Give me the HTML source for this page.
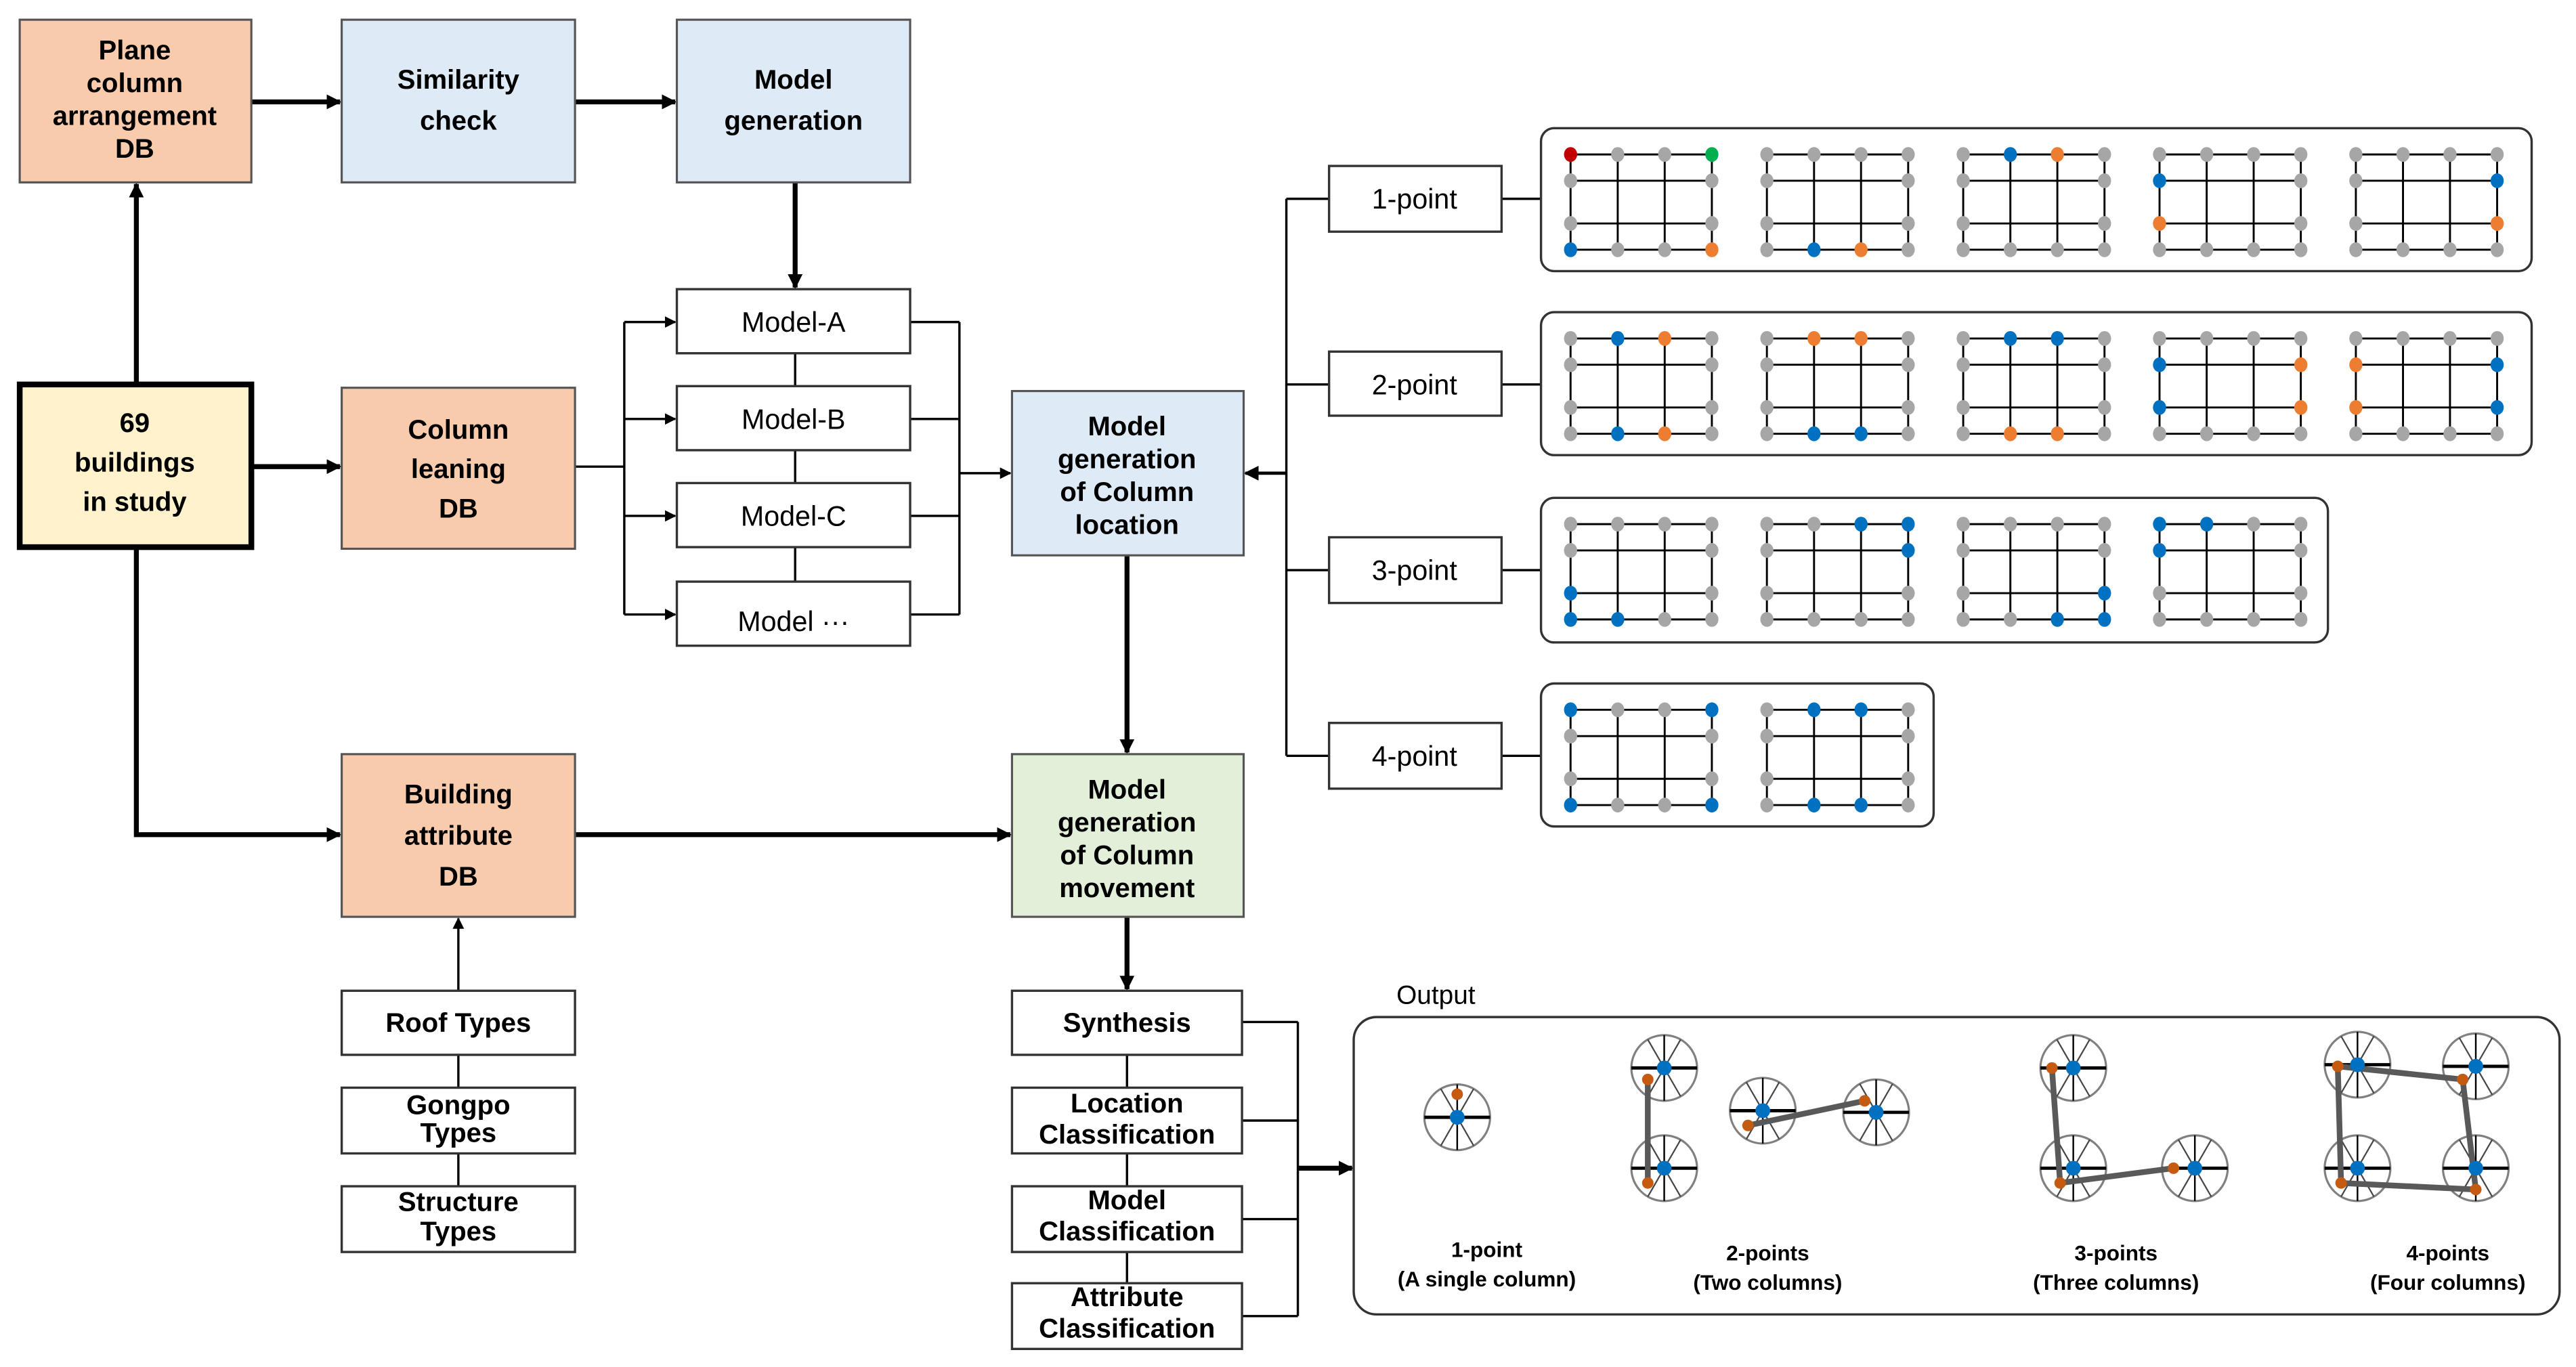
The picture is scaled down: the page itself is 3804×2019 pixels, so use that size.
<!DOCTYPE html>
<html><head><meta charset="utf-8"><style>
html,body{margin:0;padding:0;background:#fff}
svg{display:block}
text{font-family:"Liberation Sans",sans-serif;}
.b{font-weight:bold;font-size:16.5px;text-anchor:middle;fill:#000}
.n{font-size:17px;text-anchor:middle;fill:#000}
</style></head><body>
<svg id="s" xmlns="http://www.w3.org/2000/svg" width="3804" height="2019" viewBox="0 0 1568 832" preserveAspectRatio="none">
<defs>
<marker id="a" viewBox="0 0 10 10" refX="9" refY="5" markerWidth="7" markerHeight="7" markerUnits="userSpaceOnUse" orient="auto"><path d="M0,0L10,5L0,10z" fill="#000"/></marker>
<marker id="a2" viewBox="0 0 10 10" refX="9" refY="5" markerWidth="9" markerHeight="9" markerUnits="userSpaceOnUse" orient="auto"><path d="M0,0L10,5L0,10z" fill="#000"/></marker>
</defs>
<g stroke="#000" fill="none">
<g stroke-width="3">
<line x1="153" y1="62" x2="207" y2="62" marker-end="url(#a2)"/>
<line x1="350" y1="62" x2="411" y2="62" marker-end="url(#a2)"/>
<line x1="83" y1="234" x2="83" y2="112" marker-end="url(#a2)"/>
<line x1="153" y1="284" x2="207" y2="284" marker-end="url(#a2)"/>
<polyline points="83,333 83,508 207,508" marker-end="url(#a2)"/>
<line x1="484" y1="111" x2="484" y2="175" marker-end="url(#a2)"/>
<line x1="686" y1="338" x2="686" y2="458" marker-end="url(#a2)"/>
<line x1="350" y1="508" x2="615" y2="508" marker-end="url(#a2)"/>
<line x1="686" y1="558" x2="686" y2="602" marker-end="url(#a2)"/>
<line x1="790" y1="711" x2="823" y2="711" marker-end="url(#a2)"/>
</g>
<g stroke-width="1.4">
<line x1="350" y1="284" x2="380" y2="284"/>
<line x1="380" y1="196" x2="380" y2="374"/>
<line x1="380" y1="196" x2="411" y2="196" marker-end="url(#a)"/>
<line x1="380" y1="255" x2="411" y2="255" marker-end="url(#a)"/>
<line x1="380" y1="314" x2="411" y2="314" marker-end="url(#a)"/>
<line x1="380" y1="374" x2="411" y2="374" marker-end="url(#a)"/>
<line x1="554" y1="196" x2="584" y2="196"/>
<line x1="554" y1="255" x2="584" y2="255"/>
<line x1="554" y1="314" x2="584" y2="314"/>
<line x1="554" y1="374" x2="584" y2="374"/>
<line x1="584" y1="196" x2="584" y2="374"/>
<line x1="584" y1="288" x2="615" y2="288" marker-end="url(#a)"/>
<line x1="484" y1="215" x2="484" y2="235"/>
<line x1="484" y1="274" x2="484" y2="294"/>
<line x1="484" y1="333" x2="484" y2="354"/>
<line x1="279" y1="603" x2="279" y2="559" marker-end="url(#a)"/>
<line x1="279" y1="642" x2="279" y2="662"/>
<line x1="279" y1="702" x2="279" y2="722"/>
<line x1="686" y1="642" x2="686" y2="662"/>
<line x1="686" y1="702" x2="686" y2="722"/>
<line x1="686" y1="762" x2="686" y2="781"/>
<line x1="756" y1="622" x2="790" y2="622"/>
<line x1="756" y1="682" x2="790" y2="682"/>
<line x1="756" y1="742" x2="790" y2="742"/>
<line x1="756" y1="801" x2="790" y2="801"/>
<line x1="790" y1="622" x2="790" y2="801"/>
<line x1="783" y1="121" x2="783" y2="460"/>
<line x1="783" y1="121" x2="809" y2="121"/>
<line x1="783" y1="234" x2="809" y2="234"/>
<line x1="783" y1="347" x2="809" y2="347"/>
<line x1="783" y1="460" x2="809" y2="460"/>
<line x1="914" y1="121" x2="938" y2="121"/>
<line x1="914" y1="234" x2="938" y2="234"/>
<line x1="914" y1="347" x2="938" y2="347"/>
<line x1="914" y1="460" x2="938" y2="460"/>
<line x1="783" y1="288" x2="758" y2="288" stroke-width="2" marker-end="url(#a2)"/>
</g>
</g>
<g stroke="#555" stroke-width="1.3">
<rect x="12" y="12" width="141" height="99" fill="#f8cbad"/>
<rect x="208" y="12" width="142" height="99" fill="#deebf7"/>
<rect x="412" y="12" width="142" height="99" fill="#deebf7"/>
<rect x="208" y="236" width="142" height="98" fill="#f8cbad"/>
<rect x="616" y="238" width="141" height="100" fill="#deebf7"/>
<rect x="208" y="459" width="142" height="99" fill="#f8cbad"/>
<rect x="616" y="459" width="141" height="99" fill="#e2f0d9"/>
</g>
<rect x="12" y="234" width="141" height="99" fill="#fff2cc" stroke="#000" stroke-width="3.5"/>
<g stroke="#333" stroke-width="1.4" fill="#fff">
<rect x="412" y="176" width="142" height="39"/>
<rect x="412" y="235" width="142" height="39"/>
<rect x="412" y="294" width="142" height="39"/>
<rect x="412" y="354" width="142" height="39"/>
<rect x="208" y="603" width="142" height="39"/>
<rect x="208" y="662" width="142" height="40"/>
<rect x="208" y="722" width="142" height="40"/>
<rect x="616" y="603" width="140" height="39"/>
<rect x="616" y="662" width="140" height="40"/>
<rect x="616" y="722" width="140" height="40"/>
<rect x="616" y="781" width="140" height="40"/>
<rect x="809" y="101" width="105" height="40"/>
<rect x="809" y="214" width="105" height="39"/>
<rect x="809" y="327" width="105" height="40"/>
<rect x="809" y="440" width="105" height="40"/>
<rect x="938" y="78" width="603" height="87" rx="8"/>
<rect x="938" y="190" width="603" height="87" rx="8"/>
<rect x="938" y="303" width="479" height="88" rx="8"/>
<rect x="938" y="416" width="239" height="87" rx="8"/>
<rect x="824" y="619" width="734" height="181" rx="14"/>
</g>
<g id="grids"></g>
<g id="wheels"></g>
<text class="b" x="82" y="36">Plane</text>
<text class="b" x="82" y="56">column</text>
<text class="b" x="82" y="76">arrangement</text>
<text class="b" x="82" y="96">DB</text>
<text class="b" x="279" y="54">Similarity</text>
<text class="b" x="279" y="79">check</text>
<text class="b" x="483" y="54">Model</text>
<text class="b" x="483" y="79">generation</text>
<text class="b" x="82" y="263">69</text>
<text class="b" x="82" y="287">buildings</text>
<text class="b" x="82" y="311">in study</text>
<text class="b" x="279" y="267">Column</text>
<text class="b" x="279" y="291">leaning</text>
<text class="b" x="279" y="315">DB</text>
<text class="b" x="686" y="265">Model</text>
<text class="b" x="686" y="285">generation</text>
<text class="b" x="686" y="305">of Column</text>
<text class="b" x="686" y="325">location</text>
<text class="b" x="279" y="489">Building</text>
<text class="b" x="279" y="514">attribute</text>
<text class="b" x="279" y="539">DB</text>
<text class="b" x="686" y="486">Model</text>
<text class="b" x="686" y="506">generation</text>
<text class="b" x="686" y="526">of Column</text>
<text class="b" x="686" y="546">movement</text>
<text class="n" x="483" y="202">Model-A</text>
<text class="n" x="483" y="261">Model-B</text>
<text class="n" x="483" y="320">Model-C</text>
<text class="n" x="483" y="384">Model ···</text>
<text class="b" x="279" y="628">Roof Types</text>
<text class="b" x="279" y="678">Gongpo</text>
<text class="b" x="279" y="695">Types</text>
<text class="b" x="279" y="737">Structure</text>
<text class="b" x="279" y="755">Types</text>
<text class="b" x="686" y="628">Synthesis</text>
<text class="b" x="686" y="677">Location</text>
<text class="b" x="686" y="696">Classification</text>
<text class="b" x="686" y="736">Model</text>
<text class="b" x="686" y="755">Classification</text>
<text class="b" x="686" y="795">Attribute</text>
<text class="b" x="686" y="814">Classification</text>
<text class="n" x="861" y="127">1-point</text>
<text class="n" x="861" y="240">2-point</text>
<text class="n" x="861" y="353">3-point</text>
<text class="n" x="861" y="466">4-point</text>
<text x="850" y="611" style="font-size:16px">Output</text>
<g style="font-weight:bold;font-size:13px;text-anchor:middle">
<text x="905" y="765">1-point</text><text x="905" y="783">(A single column)</text>
<text x="1076" y="767">2-points</text><text x="1076" y="785">(Two columns)</text>
<text x="1288" y="767">3-points</text><text x="1288" y="785">(Three columns)</text>
<text x="1490" y="767">4-points</text><text x="1490" y="785">(Four columns)</text>
</g>
</svg>
<script>
(function(){
var NS="http://www.w3.org/2000/svg";
function el(p,t,a){var e=document.createElementNS(NS,t);for(var k in a)e.setAttribute(k,a[k]);p.appendChild(e);return e;}
var G=document.getElementById('grids');
var C={b:'#0070c0',o:'#ed7d31',r:'#c00000',g:'#00b050'};
var panels=[
 [78,[[[0,0,'r'],[3,0,'g'],[0,3,'b'],[3,3,'o']],[[1,3,'b'],[2,3,'o']],[[1,0,'b'],[2,0,'o']],[[0,1,'b'],[0,2,'o']],[[3,1,'b'],[3,2,'o']]]],
 [190,[[[1,0,'b'],[2,0,'o'],[1,3,'b'],[2,3,'o']],[[1,0,'o'],[2,0,'o'],[1,3,'b'],[2,3,'b']],[[1,0,'b'],[2,0,'b'],[1,3,'o'],[2,3,'o']],[[0,1,'b'],[3,1,'o'],[0,2,'b'],[3,2,'o']],[[0,1,'o'],[3,1,'b'],[0,2,'o'],[3,2,'b']]]],
 [303,[[[0,2,'b'],[0,3,'b'],[1,3,'b']],[[2,0,'b'],[3,0,'b'],[3,1,'b']],[[3,2,'b'],[2,3,'b'],[3,3,'b']],[[0,0,'b'],[1,0,'b'],[0,1,'b']]]],
 [416,[[[0,0,'b'],[3,0,'b'],[0,3,'b'],[3,3,'b']],[[1,0,'b'],[2,0,'b'],[1,3,'b'],[2,3,'b']]]]
];
var xo=[0,28.7,57.3,86],yo=[16,32,58,74];
panels.forEach(function(p){
 p[1].forEach(function(spec,i){
  var x0=956+i*119.5,y0=p[0];
  for(var r=0;r<4;r++)el(G,'line',{x1:x0,y1:y0+yo[r],x2:x0+86,y2:y0+yo[r],stroke:'#000','stroke-width':1.2});
  for(var c=0;c<4;c++)el(G,'line',{x1:x0+xo[c],y1:y0+16,x2:x0+xo[c],y2:y0+74,stroke:'#000','stroke-width':1.2});
  for(var r=0;r<4;r++)for(var c=0;c<4;c++){
   if(!(r==0||r==3||c==0||c==3))continue;
   var col='#a6a6a6';spec.forEach(function(s){if(s[0]==c&&s[1]==r)col=C[s[2]];});
   el(G,'ellipse',{cx:x0+xo[c],cy:y0+yo[r],rx:4,ry:4.5,fill:col});
  }
 });
});
var W=document.getElementById('wheels');
function wheel(x,y){
 el(W,'circle',{cx:x,cy:y,r:20,fill:'#fff',stroke:'#808080','stroke-width':1.3});
 [30,150].forEach(function(a){var d=a*Math.PI/180,dx=20*Math.sin(d),dy=20*Math.cos(d);
  el(W,'line',{x1:x-dx,y1:y-dy,x2:x+dx,y2:y+dy,stroke:'#444','stroke-width':0.9});});
 el(W,'line',{x1:x,y1:y-20,x2:x,y2:y+20,stroke:'#000','stroke-width':1});
 el(W,'line',{x1:x-20,y1:y,x2:x+20,y2:y,stroke:'#000','stroke-width':2});
}
var ws=[[887,680],[1013,650],[1013,711],[1073,676],[1142,677],[1262,650],[1262,711],[1336,711],[1435,648],[1507,649],[1435,711],[1507,711]];
ws.forEach(function(w){wheel(w[0],w[1]);});
var segs=[[1003,657,1003,720],[1064,685,1135,670],[1249,650,1254,720],[1254,720,1323,711],[1423,649,1499,657],[1499,657,1507,724],[1507,724,1425,720],[1425,720,1423,649]];
segs.forEach(function(s){el(W,'line',{x1:s[0],y1:s[1],x2:s[2],y2:s[3],stroke:'#595959','stroke-width':3.5});});
ws.forEach(function(w){el(W,'circle',{cx:w[0],cy:w[1],r:4.5,fill:'#0070c0'});});
[[887,666],[1003,657],[1003,720],[1064,685],[1135,670],[1249,650],[1254,720],[1323,711],[1423,649],[1499,657],[1425,720],[1507,724]].forEach(function(o){
 el(W,'circle',{cx:o[0],cy:o[1],r:3.5,fill:'#c55a11'});});
})();
</script>
</body></html>
